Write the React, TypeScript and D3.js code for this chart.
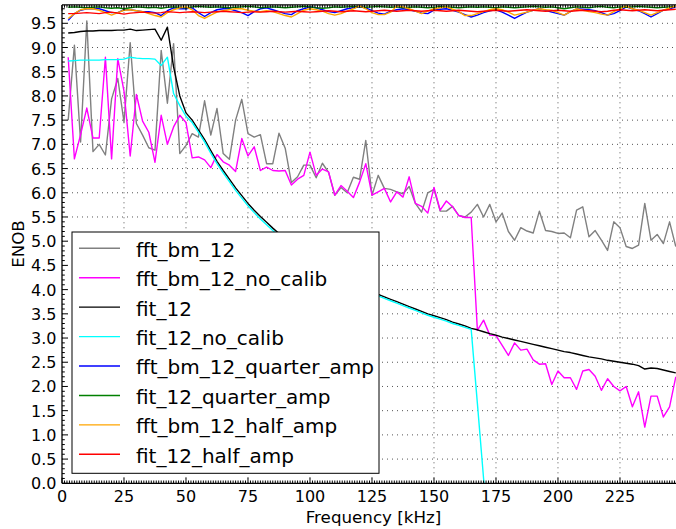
import React from "react";
import * as d3 from "d3";

const freqStep = 2.5;
const freq: number[] = d3.range(1, 100).map((k) => k * freqStep);

const fftBm12 = [7.5, 9.05, 7.05, 9.55, 6.85, 7.0, 6.78, 7.94, 8.36, 7.46,
  9.1, 7.43, 7.19, 6.93, 6.88, 8.94, 7.85, 9.08, 6.81, 6.98,
  7.22, 7.15, 7.9, 7.19, 7.74, 6.81, 6.69, 7.5, 7.93, 7.22,
  7.15, 7.2, 6.6, 6.6, 7.23, 6.92, 6.21, 6.33, 6.57, 6.57,
  6.31, 6.61, 6.42, 5.95, 6.11, 6.0, 6.32, 6.28, 7.08, 5.95,
  6.36, 6.09, 6.07, 6.02, 5.98, 6.13, 5.78, 5.6, 6.0, 6.07,
  5.62, 5.62, 5.72, 5.53, 5.5, 5.6, 5.76, 5.5, 5.76, 5.4,
  5.58, 5.2, 5.02, 5.28, 5.21, 5.17, 5.62, 5.22, 5.2, 5.16,
  5.17, 5.07, 5.64, 5.71, 5.09, 5.22, 5.02, 4.81, 5.4, 5.28,
  4.89, 4.85, 4.92, 5.78, 5.02, 5.14, 4.95, 5.4, 4.89];

const fftBm12NoCalib = [8.8, 6.7, 7.2, 7.75, 7.13, 7.13, 8.8, 6.7, 8.77, 8.1,
  6.76, 8.03, 7.48, 7.25, 6.63, 7.6, 7.0, 7.36, 7.6, 7.45,
  6.72, 6.74, 6.68, 6.52, 6.79, 6.64, 6.57, 6.44, 7.12, 6.76,
  6.95, 6.46, 6.53, 6.46, 6.45, 6.46, 6.16, 6.28, 6.36, 6.84,
  6.36, 6.49, 6.43, 5.95, 6.15, 6.03, 5.9, 6.22, 6.6, 5.95,
  6.02, 6.09, 5.81, 6.02, 5.91, 6.33, 5.78, 5.72, 5.58, 6.11,
  5.64, 5.83, 5.71, 5.53, 5.49, 5.49, 3.16, 3.37, 3.06, 3.05,
  2.85, 2.64, 2.9, 2.75, 2.77, 2.55, 2.46, 2.47, 2.04, 2.32,
  2.18, 2.18, 1.94, 2.32, 2.35, 2.21, 1.92, 2.16, 2.0, 1.91,
  2.0, 1.58, 1.89, 1.16, 1.8, 1.8, 1.37, 1.58, 2.2];

const fit12 = [9.3, 9.31, 9.33, 9.34, 9.34, 9.35, 9.35, 9.35, 9.36, 9.36,
  9.38, 9.35, 9.36, 9.37, 9.38, 9.15, 9.42, 8.6, 8.0, 7.65,
  7.5, 7.3, 7.1, 6.87, 6.65, 6.46, 6.28, 6.1, 5.94, 5.78,
  5.64, 5.51, 5.39, 5.27, 5.16, 5.05, 4.95, 4.85, 4.76, 4.67,
  4.58, 4.5, 4.42, 4.35, 4.28, 4.21, 4.14, 4.08, 4.02, 3.96,
  3.9, 3.85, 3.8, 3.75, 3.7, 3.65, 3.6, 3.55, 3.5, 3.46,
  3.42, 3.38, 3.33, 3.29, 3.25, 3.2, 3.17, 3.13, 3.09, 3.06,
  3.02, 2.99, 2.96, 2.93, 2.9, 2.87, 2.84, 2.81, 2.78, 2.75,
  2.72, 2.7, 2.67, 2.64, 2.61, 2.59, 2.57, 2.54, 2.52, 2.5,
  2.48, 2.46, 2.43, 2.36, 2.38, 2.37, 2.34, 2.31, 2.28];

const fit12NoCalib = [8.72, 8.73, 8.74, 8.74, 8.74, 8.74, 8.75, 8.75, 8.75, 8.76,
  8.8, 8.78, 8.77, 8.77, 8.76, 8.63, 8.8, 8.05, 7.8, 7.58,
  7.45, 7.25, 7.05, 6.82, 6.6, 6.41, 6.23, 6.05, 5.89, 5.73,
  5.59, 5.46, 5.34, 5.22, 5.11, 5.0, 4.9, 4.8, 4.71, 4.62,
  4.55, 4.47, 4.39, 4.32, 4.25, 4.18, 4.11, 4.05, 3.99, 3.93,
  3.87, 3.82, 3.77, 3.72, 3.67, 3.62, 3.57, 3.52, 3.47, 3.43,
  3.39, 3.35, 3.3, 3.26, 3.22, 3.18, 1.65, 0.1, -1.45];

const fftBm12QuarterAmp = [9.56, 9.7, 9.77, 9.8, 9.8, 9.8, 9.76, 9.72, 9.72, 9.78,
  9.78, 9.76, 9.74, 9.74, 9.72, 9.66, 9.76, 9.82, 9.8, 9.8,
  9.82, 9.72, 9.64, 9.72, 9.78, 9.8, 9.8, 9.76, 9.72, 9.66,
  9.74, 9.8, 9.82, 9.78, 9.74, 9.7, 9.68, 9.76, 9.8, 9.84,
  9.82, 9.78, 9.74, 9.72, 9.76, 9.8, 9.82, 9.84, 9.82, 9.76,
  9.71, 9.69, 9.75, 9.78, 9.8, 9.78, 9.75, 9.71, 9.7, 9.77,
  9.79, 9.8, 9.77, 9.73, 9.68, 9.63, 9.67, 9.72, 9.76, 9.78,
  9.73, 9.67, 9.6, 9.67, 9.73, 9.77, 9.8, 9.77, 9.73, 9.7,
  9.67, 9.74, 9.8, 9.79, 9.78, 9.76, 9.72, 9.67, 9.7, 9.76,
  9.84, 9.8, 9.76, 9.7, 9.63, 9.7, 9.77, 9.8, 9.84];

const fit12QuarterAmp = [9.83, 9.84, 9.83, 9.82, 9.83, 9.84, 9.82, 9.81, 9.82, 9.8,
  9.82, 9.84, 9.83, 9.82, 9.83, 9.81, 9.83, 9.84, 9.83, 9.82,
  9.84, 9.85, 9.84, 9.83, 9.84, 9.83, 9.82, 9.83, 9.84, 9.85,
  9.84, 9.82, 9.83, 9.84, 9.83, 9.82, 9.83, 9.84, 9.85, 9.84,
  9.82, 9.81, 9.82, 9.84, 9.83, 9.84, 9.85, 9.84, 9.83, 9.84,
  9.85, 9.84, 9.83, 9.84, 9.82, 9.83, 9.84, 9.83, 9.82, 9.83,
  9.85, 9.84, 9.83, 9.82, 9.83, 9.84, 9.83, 9.84, 9.83, 9.82,
  9.84, 9.83, 9.82, 9.83, 9.84, 9.85, 9.84, 9.83, 9.84, 9.82,
  9.8, 9.82, 9.84, 9.83, 9.82, 9.84, 9.85, 9.83, 9.82, 9.84,
  9.83, 9.84, 9.85, 9.84, 9.83, 9.82, 9.83, 9.84, 9.85];

const fftBm12HalfAmp = [9.6, 9.7, 9.78, 9.8, 9.8, 9.77, 9.72, 9.67, 9.72, 9.77,
  9.78, 9.76, 9.74, 9.7, 9.66, 9.63, 9.72, 9.78, 9.82, 9.84,
  9.78, 9.66, 9.6, 9.67, 9.73, 9.76, 9.78, 9.8, 9.8, 9.77,
  9.75, 9.74, 9.76, 9.74, 9.7, 9.66, 9.63, 9.7, 9.77, 9.8,
  9.78, 9.75, 9.7, 9.67, 9.7, 9.75, 9.8, 9.86, 9.8, 9.72,
  9.68, 9.68, 9.73, 9.86, 9.84, 9.8, 9.75, 9.7, 9.75, 9.8,
  9.82, 9.84, 9.79, 9.74, 9.66, 9.66, 9.7, 9.74, 9.78, 9.8,
  9.78, 9.73, 9.67, 9.7, 9.73, 9.77, 9.8, 9.78, 9.77, 9.72,
  9.67, 9.74, 9.8, 9.77, 9.74, 9.72, 9.69, 9.67, 9.74, 9.8,
  9.86, 9.8, 9.77, 9.72, 9.67, 9.72, 9.77, 9.82, 9.86];

const fit12HalfAmp = [9.7, 9.7, 9.71, 9.72, 9.71, 9.7, 9.72, 9.73, 9.71, 9.69,
  9.71, 9.72, 9.73, 9.72, 9.71, 9.72, 9.74, 9.73, 9.72, 9.73,
  9.74, 9.73, 9.72, 9.73, 9.74, 9.75, 9.74, 9.73, 9.72, 9.73,
  9.74, 9.73, 9.74, 9.75, 9.74, 9.73, 9.74, 9.75, 9.74, 9.73,
  9.74, 9.75, 9.76, 9.75, 9.74, 9.75, 9.76, 9.75, 9.74, 9.75,
  9.76, 9.77, 9.76, 9.75, 9.76, 9.77, 9.76, 9.75, 9.76, 9.77,
  9.76, 9.75, 9.76, 9.77, 9.76, 9.75, 9.74, 9.75, 9.76, 9.77,
  9.76, 9.75, 9.76, 9.77, 9.78, 9.77, 9.76, 9.75, 9.76, 9.77,
  9.76, 9.75, 9.76, 9.77, 9.76, 9.75, 9.74, 9.75, 9.77, 9.78,
  9.77, 9.76, 9.77, 9.78, 9.77, 9.76, 9.77, 9.78, 9.79];

const seriesNames = ["fft_bm_12", "fft_bm_12_no_calib", "fit_12", "fit_12_no_calib",
  "fft_bm_12_quarter_amp", "fit_12_quarter_amp", "fft_bm_12_half_amp", "fit_12_half_amp"];
const seriesValues = [fftBm12, fftBm12NoCalib, fit12, fit12NoCalib,
  fftBm12QuarterAmp, fit12QuarterAmp, fftBm12HalfAmp, fit12HalfAmp];
const seriesColors = ["#808080", "#ff00ff", "#000000", "#00ffff",
  "#0000ff", "#008000", "#ffa500", "#ff0000"];

const xTicks = [0, 25, 50, 75, 100, 125, 150, 175, 200, 225];
const yTicks = [0, 0.5, 1, 1.5, 2, 2.5, 3, 3.5, 4, 4.5, 5, 5.5, 6, 6.5, 7, 7.5, 8, 8.5, 9, 9.5];

const W = 676, H = 529;
const M = { left: 62, top: 4.9, bottom: 483.3, right: 679.5 };
const FONT = "'DejaVu Sans', sans-serif";

export default function App() {
  const x = d3.scaleLinear().domain([0, 249]).range([M.left, M.right]);
  const y = d3.scaleLinear().domain([0, 9.88]).range([M.bottom, M.top]);
  const xMinor = d3.range(0, 249, 1).filter((v) => v % 25 !== 0);
  const yMinor = d3.range(1, 99).map((i) => i / 10).filter((v) => Math.abs(v * 2 - Math.round(v * 2)) > 1e-6);

  const line = d3.line<number>()
    .x((_, i) => x(freq[i]))
    .y((d) => y(d));

  const legendX = 72, legendTop = 232, legendW = 307, legendH = 241.3;
  const rowY0 = 248.3, rowStep = 29.43;

  return (
    <svg width={W} height={H} style={{ position: "absolute", left: 0, top: 0, background: "#fff" }}
      fontFamily={FONT}>
      <defs>
        <clipPath id="plot">
          <rect x={M.left} y={M.top} width={M.right - M.left} height={M.bottom - M.top} />
        </clipPath>
      </defs>
      <rect x={0} y={0} width={W} height={H} fill="#fff" />
      {/* grid */}
      <g stroke="#555" strokeWidth={1} strokeDasharray="1,4">
        {xTicks.slice(1).map((t) => (
          <line key={"gx" + t} x1={x(t)} x2={x(t)} y1={M.bottom} y2={M.top} />
        ))}
        {yTicks.slice(1).map((t) => (
          <line key={"gy" + t} x1={M.left} x2={M.right} y1={y(t)} y2={y(t)} />
        ))}
      </g>
      {/* series */}
      <g clipPath="url(#plot)" fill="none" strokeWidth={1.4} strokeLinejoin="round">
        {seriesValues.map((vals, si) => (
          <path key={seriesNames[si]} d={line(vals) || ""} stroke={seriesColors[si]} />
        ))}
      </g>
      {/* ticks */}
      <g stroke="#000" strokeWidth={1}>
        {xTicks.map((t) => (
          <g key={"xt" + t}>
            <line x1={x(t)} x2={x(t)} y1={M.bottom} y2={M.bottom - 5.6} />
            <line x1={x(t)} x2={x(t)} y1={M.top} y2={M.top + 5.6} />
          </g>
        ))}
        {xMinor.map((t) => (
          <g key={"xm" + t}>
            <line x1={x(t)} x2={x(t)} y1={M.bottom} y2={M.bottom - 2.8} />
            <line x1={x(t)} x2={x(t)} y1={M.top} y2={M.top + 2.8} />
          </g>
        ))}
        {yTicks.map((t) => (
          <line key={"yt" + t} x1={M.left} x2={M.left + 5.6} y1={y(t)} y2={y(t)} />
        ))}
        {yMinor.map((t) => (
          <line key={"ym" + t} x1={M.left} x2={M.left + 2.8} y1={y(t)} y2={y(t)} />
        ))}
      </g>
      {/* spines */}
      <g stroke="#000" strokeWidth={1.3} fill="none">
        <line x1={M.left} x2={M.left} y1={M.top} y2={M.bottom} />
        <line x1={M.left} x2={W + 5} y1={M.bottom} y2={M.bottom} />
        <line x1={M.left} x2={W + 5} y1={M.top} y2={M.top} />
      </g>
      {/* tick labels */}
      <g fontSize={16} fill="#000">
        {xTicks.map((t) => (
          <text key={"xl" + t} x={x(t)} y={502} textAnchor="middle">{t}</text>
        ))}
        {yTicks.map((t) => (
          <text key={"yl" + t} x={56.5} y={y(t) + 6} textAnchor="end">{t.toFixed(1)}</text>
        ))}
      </g>
      <text x={373.5} y={523} textAnchor="middle" fontSize={16.7}>Frequency [kHz]</text>
      <text transform={`translate(24,244) rotate(-90)`} textAnchor="middle" fontSize={16.7}>ENOB</text>
      {/* legend */}
      <g>
        <rect x={legendX} y={legendTop} width={legendW} height={legendH} fill="#fff" stroke="#000" strokeWidth={1} />
        {seriesNames.map((name, i) => {
          const cy = rowY0 + i * rowStep;
          return (
            <g key={"lg" + name}>
              <line x1={79} x2={120} y1={cy} y2={cy} stroke={seriesColors[i]} strokeWidth={1.4} />
              <text x={136} y={cy + 8.4} fontSize={20} fill="#000">{name}</text>
            </g>
          );
        })}
      </g>
    </svg>
  );
}
